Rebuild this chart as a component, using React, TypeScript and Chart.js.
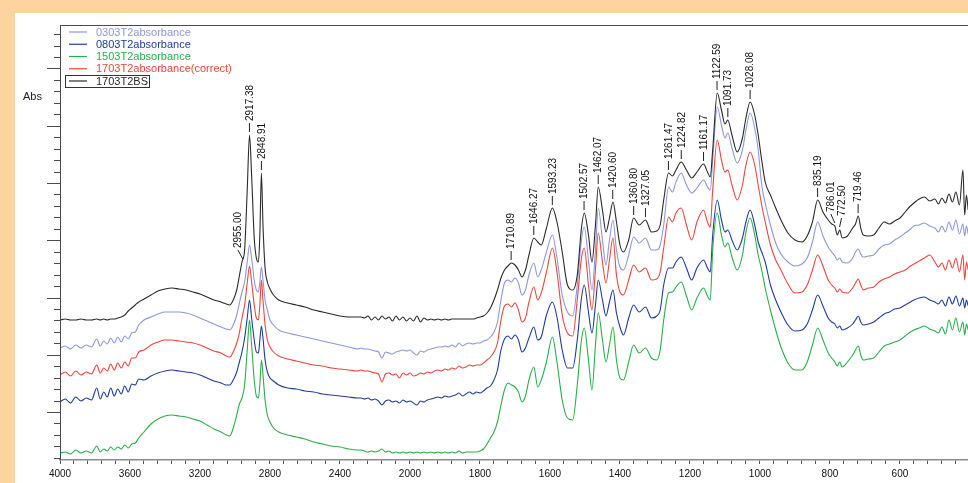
import React, { useEffect, useRef } from 'react';
import { Chart, registerables } from 'chart.js';

Chart.register(...registerables);

// ---------------- data ----------------
const WAVENUMBERS = [
  4000, 3970, 3940, 3910, 3880, 3850, 3820, 3790, 3770, 3750, 3730, 3710, 3690, 3670, 3650, 3630, 3610, 3590, 3570, 3550,
  3520, 3480, 3440, 3400, 3360, 3320, 3280, 3240, 3200, 3160, 3120, 3080, 3050, 3030, 3010, 2990, 2975, 2960, 2945, 2930,
  2917, 2905, 2890, 2878, 2866, 2858, 2849, 2840, 2828, 2815, 2800, 2780, 2750, 2700, 2650, 2600, 2550, 2500, 2450, 2400, 2350, 2300,
  2280, 2260, 2240, 2220, 2200, 2180, 2160, 2140, 2120, 2100, 2080, 2060, 2040, 2020, 2000,
  1990, 1980, 1970, 1960, 1950, 1940, 1930, 1920, 1910, 1900, 1890, 1880, 1870, 1860, 1850, 1840, 1830, 1820, 1810,
  1800, 1790, 1780, 1770, 1760, 1750, 1740, 1730, 1720, 1710, 1700, 1690, 1680, 1670, 1660, 1646, 1635, 1625, 1610, 1593,
  1580, 1565, 1550, 1535, 1522, 1510, 1502, 1490, 1480, 1470, 1462, 1450, 1440, 1430, 1420, 1410, 1400, 1390, 1375, 1361,
  1345, 1327, 1310, 1295, 1285, 1275, 1261, 1250, 1240, 1225, 1210, 1195, 1180, 1161, 1150, 1142, 1135, 1122, 1110, 1100,
  1092, 1080, 1065, 1050, 1040, 1028, 1015, 1005, 995, 985, 970, 955, 940, 920, 900, 880, 865, 850, 835, 820,
  805, 795, 786, 779, 772, 765, 750, 735, 727, 719, 712, 705, 690, 675, 660, 645, 630, 615, 600, 585,
  570, 560, 545, 530, 515, 500, 490, 480, 470, 460, 450, 440, 430, 420, 415, 410, 405,
];

const ABS_0303T2 = [
  1.12, 1.14, 1.11, 1.15, 1.12, 1.15, 1.13, 1.21, 1.14, 1.19, 1.16, 1.22, 1.17, 1.23, 1.18, 1.24, 1.21, 1.27, 1.28, 1.35,
  1.40, 1.43, 1.46, 1.48, 1.48, 1.48, 1.47, 1.45, 1.42, 1.39, 1.36, 1.33, 1.31, 1.30, 1.35, 1.45, 1.57, 1.68, 1.78, 1.98,
  2.15, 2.02, 1.80, 1.70, 1.68, 1.78, 1.93, 1.80, 1.60, 1.50, 1.40, 1.35, 1.30, 1.27, 1.25, 1.23, 1.21, 1.19, 1.17, 1.15, 1.13, 1.11,
  1.12, 1.11, 1.11, 1.10, 1.09, 1.08, 1.02, 1.08, 1.07, 1.06, 1.08, 1.09, 1.10, 1.09, 1.10,
  1.07, 1.05, 1.09, 1.08, 1.10, 1.11, 1.12, 1.13, 1.13, 1.14, 1.13, 1.15, 1.13, 1.17, 1.14, 1.16, 1.17, 1.16, 1.17,
  1.17, 1.19, 1.20, 1.23, 1.28, 1.38, 1.60, 1.77, 1.80, 1.78, 1.82, 1.77, 1.65, 1.70, 1.85, 1.97, 1.83, 1.90, 2.08, 2.25,
  2.02, 1.65, 1.48, 1.44, 1.75, 2.20, 2.33, 2.00, 1.70, 2.10, 2.52, 2.20, 1.95, 2.20, 2.40, 2.10, 1.93, 1.90, 2.05, 2.23,
  2.17, 2.22, 2.10, 2.10, 2.15, 2.35, 2.73, 2.68, 2.78, 2.87, 2.75, 2.67, 2.72, 2.80, 2.73, 2.70, 3.00, 3.53, 3.35, 3.22,
  3.27, 3.12, 2.97, 3.10, 3.30, 3.47, 3.32, 3.10, 2.75, 2.57, 2.35, 2.17, 2.06, 1.98, 1.94, 1.96, 2.02, 2.18, 2.38, 2.24,
  2.13, 2.08, 2.04, 2.00, 2.02, 1.98, 1.97, 2.02, 2.08, 2.11, 2.06, 2.03, 2.04, 2.05, 2.11, 2.15, 2.16, 2.20, 2.23, 2.27,
  2.31, 2.34, 2.35, 2.37, 2.34, 2.32, 2.28, 2.34, 2.28, 2.38, 2.30, 2.40, 2.26, 2.36, 2.24, 2.34, 2.26,
];

const ABS_0803T2 = [
  0.58, 0.61, 0.57, 0.63, 0.59, 0.62, 0.60, 0.72, 0.61, 0.68, 0.63, 0.72, 0.64, 0.71, 0.66, 0.74, 0.68, 0.76, 0.75, 0.81,
  0.80, 0.84, 0.87, 0.89, 0.90, 0.89, 0.88, 0.87, 0.85, 0.82, 0.79, 0.77, 0.75, 0.75, 0.80, 0.88, 0.98, 1.08, 1.22, 1.42,
  1.60, 1.42, 1.20, 1.08, 1.07, 1.20, 1.34, 1.22, 1.00, 0.88, 0.82, 0.79, 0.75, 0.72, 0.71, 0.69, 0.68, 0.66, 0.65, 0.64, 0.63, 0.62,
  0.62, 0.61, 0.62, 0.60, 0.61, 0.59, 0.55, 0.59, 0.60, 0.58, 0.59, 0.57, 0.60, 0.58, 0.59,
  0.57, 0.55, 0.59, 0.58, 0.60, 0.61, 0.62, 0.63, 0.62, 0.64, 0.63, 0.64, 0.65, 0.67, 0.64, 0.66, 0.68, 0.66, 0.68,
  0.67, 0.69, 0.72, 0.74, 0.80, 0.90, 1.10, 1.21, 1.24, 1.21, 1.25, 1.20, 1.08, 1.12, 1.22, 1.33, 1.20, 1.23, 1.45, 1.58,
  1.43, 1.10, 0.92, 0.92, 1.20, 1.62, 1.75, 1.48, 1.27, 1.55, 1.80, 1.60, 1.44, 1.58, 1.70, 1.47, 1.33, 1.25, 1.42, 1.55,
  1.48, 1.53, 1.42, 1.44, 1.50, 1.75, 1.92, 1.92, 1.98, 2.03, 1.92, 1.80, 1.92, 2.00, 1.92, 1.88, 2.25, 2.60, 2.40, 2.28,
  2.30, 2.20, 2.10, 2.22, 2.38, 2.50, 2.35, 2.18, 2.08, 1.98, 1.75, 1.60, 1.48, 1.35, 1.29, 1.30, 1.36, 1.50, 1.65, 1.54,
  1.42, 1.38, 1.36, 1.32, 1.34, 1.30, 1.32, 1.36, 1.40, 1.44, 1.38, 1.35, 1.36, 1.38, 1.42, 1.46, 1.48, 1.51, 1.52, 1.55,
  1.58, 1.60, 1.62, 1.63, 1.60, 1.58, 1.56, 1.60, 1.54, 1.63, 1.56, 1.64, 1.54, 1.62, 1.52, 1.60, 1.54,
];

const ABS_1503T2 = [
  0.07, 0.08, 0.06, 0.10, 0.07, 0.09, 0.07, 0.14, 0.08, 0.11, 0.09, 0.13, 0.10, 0.13, 0.11, 0.15, 0.12, 0.16, 0.17, 0.22,
  0.28, 0.36, 0.41, 0.44, 0.45, 0.44, 0.43, 0.41, 0.39, 0.35, 0.31, 0.28, 0.25, 0.24, 0.32, 0.45, 0.56, 0.62, 0.75, 1.10,
  1.40, 1.15, 0.80, 0.64, 0.62, 0.75, 1.00, 0.85, 0.60, 0.45, 0.38, 0.32, 0.28, 0.25, 0.23, 0.21, 0.18, 0.16, 0.14, 0.13, 0.11, 0.10,
  0.10, 0.09, 0.08, 0.09, 0.08, 0.09, 0.11, 0.08, 0.09, 0.07, 0.08, 0.07, 0.08, 0.07, 0.08,
  0.07, 0.08, 0.07, 0.08, 0.07, 0.08, 0.07, 0.08, 0.07, 0.08, 0.07, 0.08, 0.07, 0.09, 0.07, 0.08, 0.08, 0.08, 0.08,
  0.09, 0.11, 0.16, 0.22, 0.28, 0.38, 0.55, 0.70, 0.77, 0.75, 0.73, 0.68, 0.58, 0.64, 0.80, 0.93, 0.73, 0.80, 0.98, 1.23,
  0.98, 0.60, 0.42, 0.40, 0.75, 1.20, 1.32, 1.00, 0.70, 1.15, 1.47, 1.20, 0.98, 1.15, 1.33, 1.00, 0.82, 0.80, 0.98, 1.15,
  1.07, 1.12, 1.02, 1.00, 1.10, 1.40, 1.67, 1.68, 1.73, 1.78, 1.64, 1.50, 1.62, 1.72, 1.64, 1.60, 2.10, 2.47, 2.25, 2.13,
  2.17, 2.03, 1.90, 2.05, 2.28, 2.42, 2.25, 2.05, 1.90, 1.72, 1.50, 1.30, 1.13, 0.97, 0.90, 0.90, 0.98, 1.15, 1.32, 1.20,
  1.07, 1.02, 0.98, 0.94, 0.98, 0.93, 0.98, 1.05, 1.10, 1.14, 1.05, 1.00, 1.01, 1.02, 1.08, 1.14, 1.16, 1.18, 1.20, 1.24,
  1.28, 1.30, 1.32, 1.34, 1.31, 1.29, 1.27, 1.33, 1.26, 1.40, 1.30, 1.42, 1.28, 1.38, 1.25, 1.36, 1.30,
];

const ABS_1703T2_CORRECT = [
  0.85, 0.88, 0.84, 0.89, 0.85, 0.88, 0.86, 0.95, 0.87, 0.92, 0.89, 0.96, 0.90, 0.97, 0.92, 0.98, 0.94, 1.02, 1.02, 1.08,
  1.10, 1.15, 1.18, 1.20, 1.20, 1.19, 1.18, 1.17, 1.15, 1.12, 1.09, 1.07, 1.04, 1.03, 1.08, 1.17, 1.27, 1.42, 1.55, 1.77,
  1.94, 1.78, 1.55, 1.42, 1.40, 1.55, 1.80, 1.60, 1.35, 1.20, 1.13, 1.08, 1.04, 1.01, 0.99, 0.97, 0.95, 0.94, 0.92, 0.91, 0.90, 0.89,
  0.90, 0.89, 0.89, 0.88, 0.87, 0.86, 0.78, 0.86, 0.87, 0.85, 0.86, 0.82, 0.87, 0.85, 0.87,
  0.84, 0.85, 0.87, 0.86, 0.88, 0.87, 0.89, 0.90, 0.89, 0.91, 0.90, 0.92, 0.91, 0.94, 0.92, 0.93, 0.95, 0.94, 0.95,
  0.95, 0.97, 1.00, 1.03, 1.08, 1.17, 1.40, 1.54, 1.56, 1.53, 1.57, 1.50, 1.38, 1.42, 1.58, 1.73, 1.60, 1.67, 1.88, 2.12,
  1.88, 1.45, 1.27, 1.24, 1.60, 2.02, 2.12, 1.75, 1.50, 1.90, 2.27, 1.98, 1.77, 2.00, 2.22, 1.85, 1.68, 1.65, 1.80, 1.95,
  1.88, 1.92, 1.80, 1.81, 1.88, 2.12, 2.43, 2.38, 2.47, 2.52, 2.35, 2.20, 2.38, 2.50, 2.38, 2.33, 2.70, 3.20, 3.00, 2.88,
  2.90, 2.75, 2.60, 2.75, 2.95, 3.08, 2.95, 2.75, 2.55, 2.38, 2.15, 2.00, 1.90, 1.76, 1.67, 1.68, 1.75, 1.90, 2.05, 1.94,
  1.80, 1.75, 1.72, 1.68, 1.71, 1.68, 1.67, 1.72, 1.77, 1.81, 1.75, 1.70, 1.72, 1.73, 1.78, 1.81, 1.83, 1.86, 1.88, 1.90,
  1.94, 1.96, 1.99, 2.02, 2.05, 1.98, 1.93, 1.97, 1.90, 2.00, 1.92, 2.02, 1.88, 2.05, 1.80, 1.98, 1.90,
];

const ABS_1703T2BS = [
  1.40, 1.41, 1.40, 1.40, 1.41, 1.40, 1.40, 1.41, 1.40, 1.41, 1.40, 1.41, 1.41, 1.42, 1.43, 1.45, 1.49, 1.52, 1.55, 1.58,
  1.61, 1.65, 1.69, 1.71, 1.72, 1.71, 1.70, 1.68, 1.66, 1.63, 1.60, 1.58, 1.56, 1.55, 1.60, 1.70, 1.84, 1.98, 2.10, 2.70,
  3.25, 2.85, 2.22, 2.02, 1.98, 2.25, 2.87, 2.35, 1.92, 1.78, 1.71, 1.65, 1.60, 1.57, 1.55, 1.53, 1.50, 1.48, 1.46, 1.44, 1.43, 1.43,
  1.43, 1.42, 1.44, 1.40, 1.43, 1.40, 1.44, 1.41, 1.43, 1.39, 1.44, 1.40, 1.43, 1.39, 1.42,
  1.39, 1.44, 1.38, 1.42, 1.40, 1.41, 1.40, 1.41, 1.40, 1.41, 1.40, 1.41, 1.41, 1.41, 1.41, 1.41, 1.41, 1.41, 1.42,
  1.43, 1.44, 1.47, 1.52, 1.60, 1.70, 1.82, 1.90, 1.94, 1.97, 1.95, 1.90, 1.83, 1.90, 2.05, 2.22, 2.18, 2.15, 2.32, 2.52,
  2.38, 2.08, 1.75, 1.70, 1.85, 2.32, 2.47, 2.25, 1.98, 2.35, 2.73, 2.50, 2.28, 2.42, 2.58, 2.38, 2.15, 2.08, 2.20, 2.42,
  2.35, 2.40, 2.28, 2.29, 2.35, 2.60, 2.87, 2.84, 2.90, 2.98, 2.90, 2.82, 2.88, 2.96, 2.88, 2.83, 3.10, 3.67, 3.50, 3.36,
  3.40, 3.25, 3.08, 3.22, 3.42, 3.58, 3.45, 3.25, 3.00, 2.78, 2.65, 2.52, 2.40, 2.27, 2.20, 2.18, 2.24, 2.38, 2.60, 2.48,
  2.40, 2.36, 2.34, 2.25, 2.30, 2.22, 2.24, 2.32, 2.36, 2.44, 2.32, 2.25, 2.24, 2.25, 2.32, 2.38, 2.36, 2.39, 2.42, 2.48,
  2.54, 2.57, 2.61, 2.63, 2.59, 2.61, 2.56, 2.62, 2.57, 2.66, 2.58, 2.68, 2.55, 2.90, 2.45, 2.65, 2.50,
];

const SERIES_LABELS = [
  '0303T2absorbance',
  '0803T2absorbance',
  '1503T2absorbance',
  '1703T2absorbance(correct)',
  '1703T2BS',
];
const SERIES_VALUES = [ABS_0303T2, ABS_0803T2, ABS_1503T2, ABS_1703T2_CORRECT, ABS_1703T2BS];
const SERIES_COLORS = ['#8d97dc', '#1f3c9e', '#2aae4a', '#f0453b', '#2a2a2a'];

const PEAK_WAVENUMBERS = [
  2955.0, 2917.38, 2848.91, 1710.89, 1646.27, 1593.23, 1502.57, 1462.07, 1420.6, 1360.8, 1327.05,
  1261.47, 1224.82, 1161.17, 1122.59, 1091.73, 1028.08, 835.19, 786.01, 772.5, 719.46,
];
const PEAK_LABELS = [
  '2955.00', '2917.38', '2848.91', '1710.89', '1646.27', '1593.23', '1502.57', '1462.07', '1420.60', '1360.80', '1327.05',
  '1261.47', '1224.82', '1161.17', '1122.59', '1091.73', '1028.08', '835.19', '786.01', '772.50', '719.46',
];

const X_TICK_WAVENUMBERS = [4000, 3600, 3200, 2800, 2400, 2000, 1800, 1600, 1400, 1200, 1000, 800, 600];

// ---------------- helpers ----------------
// Spectrometer-style axis: 4000-2000 cm-1 is drawn at half the scale of 2000-400 cm-1.
const toPos = (w: number) => (w >= 2000 ? 4000 - w : 2000 + (2000 - w) * 2);
const X_MAX = 5189;
const Y_MIN = 0;
const Y_MAX = 4.35;
const FONT = "'Liberation Sans', Arial, Helvetica, sans-serif";
// label leader offsets (px) for crowded annotations
const LABEL_SHIFT: Record<string, number> = { '2955.00': -5, '786.01': -4, '772.50': 2 };

const framePlugin = {
  id: 'frame',
  afterDraw(chart: any) {
    const { ctx, chartArea } = chart;
    const ys = chart.scales.y;
    const { left, top, right, bottom } = chartArea;
    ctx.save();
    // left axis + top frame
    ctx.strokeStyle = '#4a4a4a';
    ctx.lineWidth = 1;
    ctx.beginPath();
    ctx.moveTo(left + 0.5, top);
    ctx.lineTo(left + 0.5, bottom);
    ctx.moveTo(left, top + 0.5);
    ctx.lineTo(right, top + 0.5);
    ctx.stroke();
    // y ticks (unlabelled): major every 5 minor
    const minor = 0.1145;
    const base = 0.48;
    for (let k = -4; k < 40; k++) {
      const v = base + k * minor;
      if (v < Y_MIN || v > Y_MAX) continue;
      const py = Math.round(ys.getPixelForValue(v)) + 0.5;
      const len = k % 5 === 0 ? 13 : 6;
      ctx.beginPath();
      ctx.moveTo(left - len, py);
      ctx.lineTo(left, py);
      ctx.stroke();
    }
    // "Abs" axis title
    ctx.fillStyle = '#222';
    ctx.font = `11px ${FONT}`;
    ctx.textAlign = 'left';
    ctx.textBaseline = 'middle';
    ctx.fillText('Abs', 23, 97);

    // legend
    ctx.font = `11px ${FONT}`;
    chart.data.datasets.forEach((ds: any, i: number) => {
      const y = top + 7 + i * 12.25;
      ctx.strokeStyle = ds.borderColor;
      ctx.lineWidth = 1.2;
      ctx.beginPath();
      ctx.moveTo(left + 9, y);
      ctx.lineTo(left + 27, y);
      ctx.stroke();
      ctx.fillStyle = ds.borderColor;
      ctx.fillText(ds.label, left + 36, y + 0.5);
      if (i === chart.data.datasets.length - 1) {
        ctx.strokeStyle = '#333';
        ctx.lineWidth = 1;
        ctx.strokeRect(left + 5.5, y - 5.5, 84, 12);
      }
    });

    // peak annotations on the top (1703T2BS) trace
    const xs = chart.scales.x;
    const ref = ABS_1703T2BS;
    ctx.strokeStyle = '#222';
    ctx.fillStyle = '#111';
    ctx.lineWidth = 1;
    ctx.font = `10px ${FONT}`;
    PEAK_WAVENUMBERS.forEach((w, i) => {
      let best = 0;
      let bd = Infinity;
      WAVENUMBERS.forEach((wn, j) => {
        const d = Math.abs(wn - w);
        if (d < bd) {
          bd = d;
          best = j;
        }
      });
      const px = xs.getPixelForValue(toPos(w));
      const py = ys.getPixelForValue(ref[best]);
      const label = PEAK_LABELS[i];
      const shift = LABEL_SHIFT[label] || 0;
      const tx = px + shift;
      ctx.beginPath();
      ctx.moveTo(px, py - 3);
      ctx.lineTo(tx, py - 12);
      ctx.stroke();
      ctx.save();
      ctx.translate(tx, py - 14);
      ctx.rotate(-Math.PI / 2);
      ctx.textAlign = 'left';
      ctx.textBaseline = 'middle';
      ctx.fillText(label, 0, 0.5);
      ctx.restore();
    });
    ctx.restore();
  },
};

export default function App() {
  const canvasRef = useRef<HTMLCanvasElement | null>(null);

  useEffect(() => {
    const canvas = canvasRef.current;
    if (!canvas) return;
    const datasets = SERIES_LABELS.map((label, s) => ({
      label,
      data: WAVENUMBERS.map((w, i) => ({ x: toPos(w), y: SERIES_VALUES[s][i] })),
      borderColor: SERIES_COLORS[s],
      backgroundColor: SERIES_COLORS[s],
      borderWidth: 1.1,
      pointRadius: 0,
      cubicInterpolationMode: 'monotone' as const,
      fill: false,
      order: 4 - s,
    }));
    const chart = new Chart(canvas, {
      type: 'line',
      data: { datasets },
      options: {
        responsive: false,
        devicePixelRatio: 1,
        animation: false,
        layout: { padding: { left: 60, top: 25, right: 0, bottom: 0 } },
        plugins: { legend: { display: false }, tooltip: { enabled: false } },
        scales: {
          x: {
            type: 'linear',
            position: 'bottom',
            min: 0,
            max: X_MAX,
            afterFit: (scale: any) => {
              scale.height = 23;
            },
            afterBuildTicks: (scale: any) => {
              const t = [];
              for (let v = 0; v <= X_MAX; v += 80) t.push({ value: v });
              scale.ticks = t;
            },
            border: { display: true, color: '#8a8a8a', width: 1.5 },
            grid: { drawOnChartArea: false, drawTicks: true, tickLength: 4, color: '#555', tickColor: '#555' },
            ticks: {
              autoSkip: false,
              maxRotation: 0,
              padding: 4,
              color: '#111',
              font: { family: FONT, size: 10 },
              callback: (value: any) => {
                const w = X_TICK_WAVENUMBERS.find((t) => toPos(t) === value);
                return w === undefined ? '' : String(w);
              },
            },
          },
          y: { type: 'linear', display: false, min: Y_MIN, max: Y_MAX },
        },
      },
      plugins: [framePlugin],
    });
    return () => chart.destroy();
  }, []);

  return (
    <div
      style={{
        position: 'fixed',
        left: 0,
        top: 0,
        width: 968,
        height: 483,
        background: '#fdd39f',
        overflow: 'hidden',
      }}
    >
      <div style={{ position: 'absolute', left: 15, top: 13, right: 0, bottom: 0, background: '#ffffff' }} />
      <canvas
        ref={canvasRef}
        width={968}
        height={483}
        style={{ position: 'absolute', left: 0, top: 0, width: 968, height: 483 }}
      />
    </div>
  );
}
